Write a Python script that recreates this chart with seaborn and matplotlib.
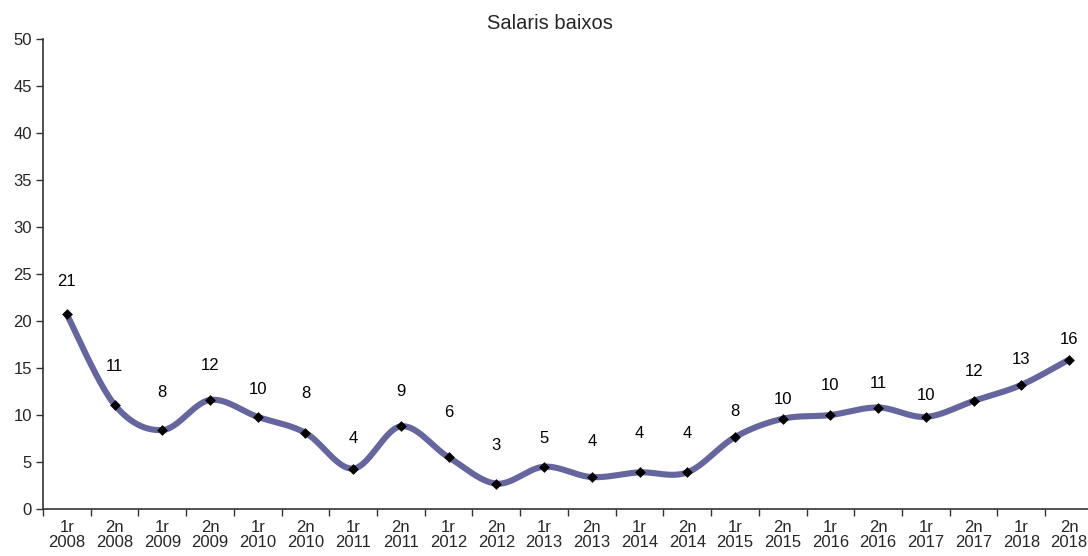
import numpy as np
import pandas as pd
import seaborn as sns
import matplotlib
matplotlib.use("Agg")
import matplotlib.pyplot as plt
from matplotlib.ticker import FixedLocator, MultipleLocator

# data
periods = ["1r", "2n"] * 11
years = [str(y) for y in range(2008, 2019) for _ in range(2)]
values = [20.7, 11.1, 8.4, 11.6, 9.8, 8.1, 4.3, 8.8, 5.5, 2.7, 4.5,
          3.4, 3.9, 3.9, 7.65, 9.6, 10.0, 10.8, 9.8, 11.5, 13.2, 15.9]
labels = [21, 11, 8, 12, 10, 8, 4, 9, 6, 3, 5,
          4, 4, 4, 8, 10, 10, 11, 10, 12, 13, 16]

# vertical offset of each value label above its marker (pixels)
label_dy = [33, 38, 38, 34, 27, 39, 30, 35, 45, 38, 28,
            36, 39, 39, 26, 19, 30, 24, 21, 29, 25, 20]

line_color = "#66669e"

df = pd.DataFrame({"x": np.arange(len(values)), "valor": values})


def smooth_curve(x, y, steps=30):
    # Excel-like smoothed line: Bezier segments with Catmull-Rom control points
    px, py = [], []
    n = len(x)
    for i in range(n - 1):
        p0 = np.array([x[max(i - 1, 0)], y[max(i - 1, 0)]])
        p1 = np.array([x[i], y[i]])
        p2 = np.array([x[i + 1], y[i + 1]])
        p3 = np.array([x[min(i + 2, n - 1)], y[min(i + 2, n - 1)]])
        c1 = p1 + (p2 - p0) / 6
        c2 = p2 - (p3 - p1) / 6
        t = np.linspace(0, 1, steps)[:, None]
        pts = ((1 - t) ** 3 * p1 + 3 * (1 - t) ** 2 * t * c1
               + 3 * (1 - t) * t ** 2 * c2 + t ** 3 * p2)
        if i > 0:
            pts = pts[1:]
        px.extend(pts[:, 0])
        py.extend(pts[:, 1])
    return pd.DataFrame({"x": px, "valor": py})


curve = smooth_curve(df["x"].values, df["valor"].values)

sns.set_style("white")
plt.rcParams["font.family"] = ["Liberation Sans", "DejaVu Sans"]

fig = plt.figure(figsize=(10.88, 5.56), dpi=100)
ax = fig.add_axes([0.0395, 0.0845, 0.965, 0.8453])

sns.lineplot(data=curve, x="x", y="valor", ax=ax, color=line_color,
             linewidth=4.4, sort=False, estimator=None)
sns.scatterplot(data=df, x="x", y="valor", ax=ax, marker="D", color="black",
                s=30, edgecolor="black", linewidth=0, zorder=5)

for xi, yi, lab, dy in zip(df["x"], values, labels, label_dy):
    ax.annotate(str(lab), (xi, yi), xytext=(0, dy), textcoords="offset pixels",
                ha="center", va="center", fontsize=12, color="black")

ax.set_xlim(-0.5, len(values) - 0.5)
ax.set_ylim(0, 50)
ax.yaxis.set_major_locator(MultipleLocator(5))
ax.set_xticks(df["x"])
ax.set_xticklabels([f"{p}\n{y}" for p, y in zip(periods, years)], fontsize=12,
                   linespacing=1.0)
ax.xaxis.set_minor_locator(FixedLocator(np.arange(-0.5, len(values), 1.0)))
ax.tick_params(axis="x", which="major", length=0, pad=8)
ax.tick_params(axis="x", which="minor", length=5, width=1, color="#333333",
               direction="out", bottom=True)
ax.tick_params(axis="y", length=5, width=1, color="#333333", direction="out",
               left=True, labelsize=12, pad=3)
ax.set_xlabel("")
ax.set_ylabel("")

for side in ["top", "right"]:
    ax.spines[side].set_visible(False)
for side in ["left", "bottom"]:
    ax.spines[side].set_color("#333333")
    ax.spines[side].set_linewidth(1.2)

fig.text(0.505, 0.957, "Salaris baixos", ha="center", va="center", fontsize=14.5)

fig.savefig("out.png", dpi=100)
plt.close(fig)
